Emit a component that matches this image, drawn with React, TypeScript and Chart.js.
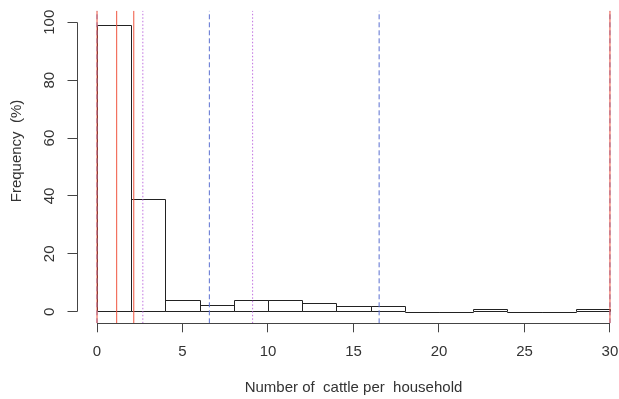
import React, { useEffect, useRef } from 'react';
import { Chart, registerables } from 'chart.js';

Chart.register(...registerables);

// ---- data ----
const binCenters = [1, 3, 5, 7, 9, 11, 13, 15, 17, 19, 21, 23, 25, 27, 29];
const frequencies = [99, 39, 4, 2.2, 4, 4, 2.9, 2.1, 2.1, 0, 0, 1, 0, 0, 1];
const xTickValues = [0, 5, 10, 15, 20, 25, 30];
const yTickValues = [0, 20, 40, 60, 80, 100];
const redSolidLines = [0, 1.15, 2.15, 30];
const blueDashedLines = [0, 6.57, 16.5, 30];
const purpleDottedLines = [2.68, 9.1];
const xTitle = 'Number of  cattle per  household';
const yTitle = 'Frequency  (%)';

const FONT = '"Liberation Sans", Arial, sans-serif';
const TEXT_COLOR = '#333';
const Y_MIN = -4;
const Y_MAX = 104;

function vline(v: number, color: string, dash: number[]) {
  return {
    type: 'line' as const,
    data: [
      { x: v, y: Y_MIN },
      { x: v, y: Y_MAX },
    ],
    borderColor: color,
    borderWidth: 1,
    borderDash: dash,
    pointRadius: 0,
    fill: false,
    order: 0,
  };
}

const histPlugin = {
  id: 'histOutline',
  afterDatasetDraw(chart: any, args: any) {
    if (args.index !== 0) return;
    const ctx = chart.ctx;
    const meta = chart.getDatasetMeta(0);
    ctx.save();
    ctx.strokeStyle = '#222';
    ctx.lineWidth = 1;
    meta.data.forEach((el: any) => {
      const p = el.getProps(['x', 'y', 'base', 'width'], true);
      const l = Math.round(p.x - p.width / 2) + 0.5;
      const r = Math.round(p.x + p.width / 2) + 0.5;
      const t = Math.round(Math.min(p.y, p.base)) + 0.5;
      const b = Math.round(Math.max(p.y, p.base)) + 0.5;
      ctx.beginPath();
      ctx.rect(l, t, r - l, b - t);
      ctx.stroke();
    });
    ctx.restore();
  },
  afterDraw(chart: any) {
    const ctx = chart.ctx;
    const xs = chart.scales.x;
    const ys = chart.scales.y;
    const area = chart.chartArea;
    ctx.save();
    ctx.strokeStyle = '#444';
    ctx.lineWidth = 1;
    // x axis line (from first to last tick)
    const bx = Math.round(area.bottom) + 0.5;
    ctx.beginPath();
    ctx.moveTo(xs.getPixelForValue(xTickValues[0]), bx);
    ctx.lineTo(xs.getPixelForValue(xTickValues[xTickValues.length - 1]), bx);
    ctx.stroke();
    // y axis line
    const lx = Math.round(area.left) + 0.5;
    ctx.beginPath();
    ctx.moveTo(lx, ys.getPixelForValue(yTickValues[0]));
    ctx.lineTo(lx, ys.getPixelForValue(yTickValues[yTickValues.length - 1]));
    ctx.stroke();

    ctx.fillStyle = TEXT_COLOR;
    ctx.font = `15px ${FONT}`;
    ctx.textAlign = 'center';
    ctx.textBaseline = 'middle';
    // y tick labels, rotated
    yTickValues.forEach((v) => {
      ctx.save();
      ctx.translate(50, ys.getPixelForValue(v));
      ctx.rotate(-Math.PI / 2);
      ctx.fillText(String(v), 0, 0);
      ctx.restore();
    });
    // y title
    ctx.save();
    ctx.translate(17, 151);
    ctx.rotate(-Math.PI / 2);
    ctx.fillText(yTitle, 0, 0);
    ctx.restore();
    // x title
    ctx.fillText(xTitle, 353.5, 388);
    ctx.restore();
  },
};

export default function App() {
  const ref = useRef<HTMLCanvasElement | null>(null);
  useEffect(() => {
    if (!ref.current) return;
    const chart = new Chart(ref.current, {
      type: 'bar',
      data: {
        datasets: [
          {
            type: 'bar',
            data: binCenters.map((c, i) => ({ x: c, y: frequencies[i] })),
            backgroundColor: 'rgba(0,0,0,0)',
            borderWidth: 0,
            barPercentage: 1,
            categoryPercentage: 1,
            order: 10,
          } as any,
          ...redSolidLines.map((v) => vline(v, '#f0553f', [])),
          ...blueDashedLines.map((v) => vline(v, '#5a6fd0', [5, 3])),
          ...purpleDottedLines.map((v) => vline(v, '#c070e0', [1.5, 2])),
        ],
      },
      plugins: [histPlugin],
      options: {
        responsive: false,
        animation: false,
        events: [],
        layout: { padding: { top: 10.7, right: 2.2, left: 0, bottom: 0 } },
        plugins: {
          legend: { display: false },
          tooltip: { enabled: false },
        },
        scales: {
          x: {
            type: 'linear',
            min: -1.2,
            max: 30.4,
            offset: false,
            afterBuildTicks: (s: any) => {
              s.ticks = xTickValues.map((v) => ({ value: v }));
            },
            afterFit: (s: any) => {
              s.height = 399 - 323.3;
              s.paddingLeft = 0;
              s.paddingRight = 0;
            },
            grid: {
              display: true,
              drawOnChartArea: false,
              drawTicks: true,
              tickLength: 9,
              color: '#444',
              offset: false,
            },
            border: { display: false },
            ticks: {
              autoSkip: false,
              maxRotation: 0,
              minRotation: 0,
              padding: 11,
              color: TEXT_COLOR,
              font: { family: FONT, size: 15 },
              callback: (v: any) => String(v),
            },
          },
          y: {
            type: 'linear',
            min: Y_MIN,
            max: Y_MAX,
            afterBuildTicks: (s: any) => {
              s.ticks = yTickValues.map((v) => ({ value: v }));
            },
            afterFit: (s: any) => {
              s.width = 76.5;
              s.paddingTop = 0;
              s.paddingBottom = 0;
            },
            grid: {
              display: true,
              drawOnChartArea: false,
              drawTicks: true,
              tickLength: 9,
              color: '#444',
            },
            border: { display: false },
            ticks: { display: false },
          },
        },
      } as any,
    });
    return () => chart.destroy();
  }, []);
  return (
    <div style={{ position: 'fixed', left: 0, top: 0, width: 619, height: 399, background: '#fff' }}>
      <canvas ref={ref} width={619} height={399} style={{ display: 'block' }} />
    </div>
  );
}
